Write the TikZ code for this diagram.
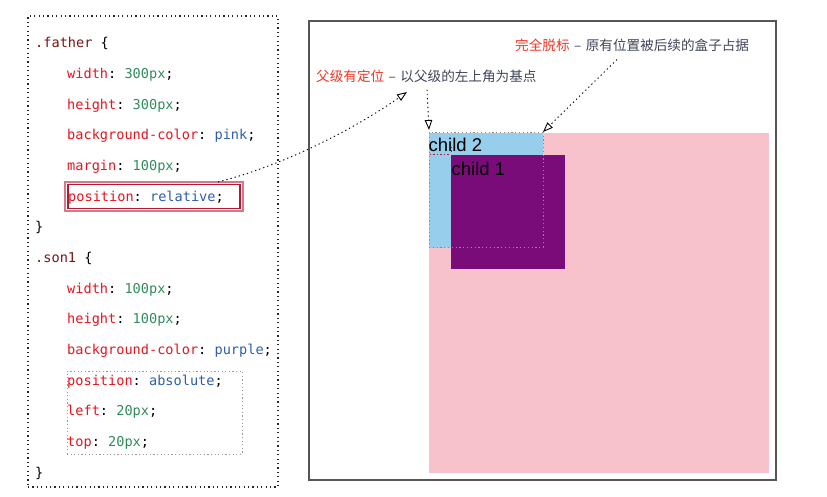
\documentclass[tikz,border=0pt]{standalone}
\usepackage{fontspec}
\setmonofont{DejaVu Sans Mono}
\newfontfamily\cjk{Noto Sans CJK SC}
\newfontfamily\helv{Liberation Sans}
\usetikzlibrary{arrows.meta,calc}
\definecolor{selc}{RGB}{122,22,22}
\definecolor{propc}{RGB}{230,22,32}
\definecolor{numc}{RGB}{48,140,92}
\definecolor{kwc}{RGB}{45,96,170}
\definecolor{boxout}{RGB}{214,120,138}
\definecolor{boxin}{RGB}{176,28,52}
\definecolor{pinkc}{RGB}{248,194,205}
\definecolor{bluec}{RGB}{150,206,236}
\definecolor{purplec}{RGB}{122,12,122}
\definecolor{labred}{RGB}{238,56,40}
\definecolor{labgray}{RGB}{62,70,86}
\definecolor{framec}{RGB}{85,85,85}
\newcommand{\csel}[1]{\textcolor{selc}{#1}}
\newcommand{\cprop}[1]{\textcolor{propc}{#1}}
\newcommand{\cnumv}[1]{\textcolor{numc}{#1}}
\newcommand{\ckw}[1]{\textcolor{kwc}{#1}}
\newcommand{\labdash}{\hspace{4.5pt}–\hspace{4.5pt}}
\tikzset{
  code/.style={anchor=base west, inner sep=0pt, font=\ttfamily\fontsize{13.6}{16}\selectfont},
  rectbox/.style={anchor=north west, inner sep=0pt, outer sep=0pt},
  conn/.style={draw=black, line width=0.9pt, dash pattern=on 1.3pt off 3pt,
    -{Triangle[open,length=10pt,width=7.5pt,fill=white]}},
  lab/.style={anchor=west, inner sep=0pt, font=\cjk\fontsize{13.6}{16}\selectfont},
  childtxt/.style={anchor=base west, inner sep=0pt, font=\helv\fontsize{18.5}{20}\selectfont}
}
\begin{document}
\begin{tikzpicture}[x=1pt,y=-1pt]
\useasboundingbox (0,0) rectangle (827,497);
\fill[white] (0,0) rectangle (827,497);

% left code panel
\node[rectbox, draw=black!85, line width=1.1pt, dash pattern=on 1.2pt off 3.2pt,
  minimum width=250pt, minimum height=471pt] (codepanel) at (28,16) {};

\node[code] (l0) at (35,48) {\csel{.father} \{};
\node[code] (l1) at (67,78.65) {\cprop{width}: \cnumv{300px};};
\node[code] (l2) at (67,109.3) {\cprop{height}: \cnumv{300px};};
\node[code] (l3) at (67,139.95) {\cprop{background-color}: \ckw{pink};};
\node[code] (l4) at (67,170.6) {\cprop{margin}: \cnumv{100px};};
\node[code] (l5) at (68,201.25) {\cprop{position}: \ckw{relative};};
\node[code] (l6) at (35,231.9) {\}};
\node[code] (l7) at (35,262.55) {\csel{.son1} \{};
\node[code] (l8) at (67,293.2) {\cprop{width}: \cnumv{100px};};
\node[code] (l9) at (67,323.85) {\cprop{height}: \cnumv{100px};};
\node[code] (l10) at (67,354.5) {\cprop{background-color}: \ckw{purple};};
\node[code] (l11) at (67,385.15) {\cprop{position}: \ckw{absolute};};
\node[code] (l12) at (67,415.8) {\cprop{left}: \cnumv{20px};};
\node[code] (l13) at (67,446.45) {\cprop{top}: \cnumv{20px};};
\node[code] (l14) at (35,477.1) {\}};

% highlight boxes
\node[rectbox, draw=boxout, line width=1.2pt, minimum width=178pt, minimum height=29pt] (relbox) at (65,182) {};
\draw[boxin, line width=1.2pt] ($(relbox.north west)+(3,2.5)$) rectangle ($(relbox.south east)+(-3,-2.5)$);
\node[rectbox, draw=black!40, line width=1pt, dash pattern=on 1.2pt off 2.4pt,
  minimum width=175pt, minimum height=83pt] (absbox) at (67,371) {};

% right panel
\node[rectbox, draw=framec, line width=1.4pt, minimum width=467pt, minimum height=459pt] (stage) at (309,21) {};

\node[rectbox, fill=pinkc, minimum width=340pt, minimum height=340pt] (father) at (429,133) {};
\node[rectbox, fill=bluec, minimum width=114pt, minimum height=115pt] (child2) at (429,133) {};
\node[rectbox, fill=purplec, minimum width=114pt, minimum height=114pt] (child1) at (451,155) {};
\node[rectbox, draw=black!45, line width=1pt, dash pattern=on 1.2pt off 2.6pt,
  minimum width=114pt, minimum height=114pt] (ghost) at (429,133) {};
\draw[boxin, line width=1pt, dash pattern=on 1.5pt off 2pt] (429.5,155) -- (450,155);
\draw[boxin, line width=1pt, dash pattern=on 1.5pt off 2pt] (451,147) -- (451,154);

\node[childtxt] (t2) at (428.5,152) {child 2};
\node[childtxt] (t1) at (451.5,175.5) {child 1};

% labels
\node[lab] (lab1) at (515,45) {\textcolor{labred}{完全脱标}\textcolor{labgray}{\labdash 原有位置被后续的盒子占据}};
\node[lab] (lab2) at (316,76) {\textcolor{labred}{父级有定位}\textcolor{labgray}{\labdash 以父级的左上角为基点}};

% connectors
\coordinate (tip1) at (407,92);
\draw[conn] ($(relbox.north east)+(-25,0)$) .. controls +(70,-18) and +(-50,35) .. (tip1);
\draw[conn] ($(lab2.south west)+(111,7)$) -- ($(child2.north west)+(0,-3)$);
\draw[conn] ($(lab1.south west)+(102,8)$) -- ($(child2.north east)+(0,-1)$);
\end{tikzpicture}
\end{document}
